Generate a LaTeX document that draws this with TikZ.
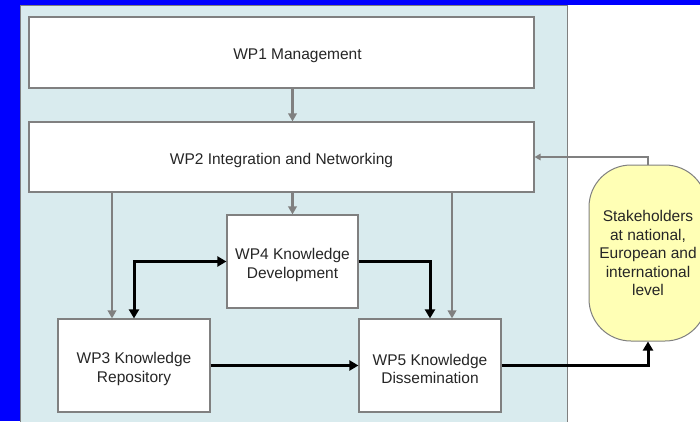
\documentclass[tikz,border=0pt]{standalone}
\usepackage{fontspec}
\setmainfont{Liberation Sans}
\usepackage{tikz}
\usetikzlibrary{calc}
\usetikzlibrary{arrows.meta}
\usetikzlibrary{positioning}
\definecolor{panelbg}{HTML}{D9EBEE}
\definecolor{boxline}{HTML}{808080}
\definecolor{stakefill}{HTML}{FFFFB5}
\tikzset{>=latex}
\tikzstyle{wpbox} = [rectangle, draw=boxline, line width=1.2pt, fill=white, inner sep=0pt]
\tikzstyle{wptext} = [text=black!85, align=center, yshift=-3.5pt]
\tikzstyle{flow} = [-{Triangle[length=8pt,width=8.5pt]}, draw=boxline, line width=2.6pt]
\tikzstyle{heavy} = [-{Triangle[length=9pt,width=10pt]}, draw=black, line width=3pt]

\begin{document}
\begin{tikzpicture}[x=1pt, y=-1pt, font=\fontsize{15.5}{18.5}\selectfont]
\useasboundingbox (0,0) rectangle (700,421);
\fill [blue] (0,0) rectangle (700,421);
\fill [white] (568,5) rectangle (700,421);
\draw [fill=panelbg, draw=boxline, line width=1pt] (20.5,5) rectangle (567.5,422);
\node [wpbox, minimum width=505pt, minimum height=71pt, label={[wptext, xshift=16pt]center:WP1 Management}] (wp1) at (281.5,52.5) {};
\node [wpbox, minimum width=505pt, minimum height=70pt, label={[wptext]center:WP2 Integration and Networking}] (wp2) at (281.5,157) {};
\node [wpbox, minimum width=131pt, minimum height=93pt, label={[wptext]center:{WP4 Knowledge\\Development}}] (wp4) at (292.5,261.5) {};
\node [wpbox, minimum width=152pt, minimum height=93pt, label={[wptext]center:{WP3 Knowledge\\Repository}}] (wp3) at (134,365.5) {};
\node [wpbox, minimum width=142pt, minimum height=93pt, label={[wptext]center:{WP5 Knowledge\\Dissemination}}] (wp5) at (430,365.5) {};
\node [rectangle, rounded corners=42pt, draw=boxline, line width=1pt, fill=stakefill, text=black!85, align=center, minimum width=118pt, minimum height=176pt, inner sep=0pt] (stake) at (648,253) {Stakeholders\\at national,\\European and\\international\\level};
\coordinate (in3) at ([xshift=-22pt]wp3.north);
\coordinate (in5) at ([xshift=22pt]wp5.north);
% gray links from management and integration
\draw [flow] (wp1.south -| wp4) -- (wp2.north -| wp4);
\draw [flow] (wp2.south -| wp4) -- (wp4.north);
\draw [flow] (wp2.south -| in3) -- (in3);
\draw [flow] (wp2.south -| in5) -- (in5);
\draw [-{Triangle[length=6pt,width=6.5pt]}, draw=boxline, line width=1.5pt] (stake.north) |- (wp2.east);
% black knowledge flow
\draw [heavy, {Triangle[length=9pt,width=10pt]}-{Triangle[length=9pt,width=10pt]}] (wp4.west) -| (wp3.north);
\draw [heavy] (wp4.east) -| (wp5.north);
\draw [heavy] (wp3.east) -- (wp5.west);
\draw [heavy] (wp5.east) -| (stake.south);
\end{tikzpicture}
\end{document}
